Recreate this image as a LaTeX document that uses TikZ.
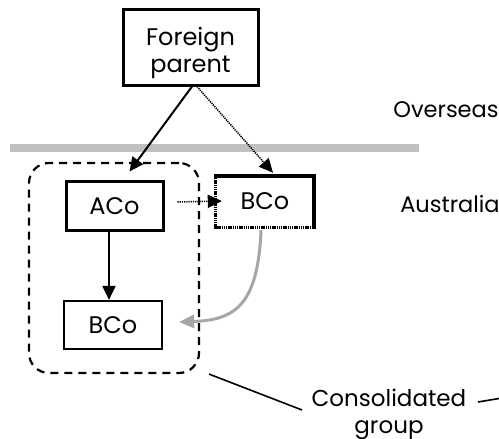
\documentclass[tikz,border=0pt]{standalone}
\usepackage{fontspec}
\setmainfont{Poppins}
\usetikzlibrary{arrows.meta,calc}
\definecolor{sepgray}{HTML}{C0C0C0}
\definecolor{arrgray}{HTML}{A6A6A6}
\tikzset{
  txt/.style={font=\fontsize{22.5}{27}\selectfont, inner sep=0pt},
  boxtxt/.style={font=\fontsize{24}{27}\selectfont, inner sep=0pt},
  box/.style={boxtxt, draw, line width=3pt, align=center},
  tip/.style={-{Triangle[length=14pt,width=13pt]}},
  conn/.style={line width=2pt, tip},
  dotconn/.style={line width=1.6pt, dash pattern=on 1.2pt off 1pt, tip},
}
\begin{document}
\begin{tikzpicture}[x=1pt,y=-1pt]
\clip (0,0) rectangle (499,439);
\useasboundingbox (0,0) rectangle (499,439);
% separator
\draw[sepgray, line width=8pt] (10,147.5) -- (419,147.5);
% nodes
\node[box, minimum width=135, minimum height=76, text height=60pt, text depth=10pt] (fp) at (190.5,47) {Foreign\\parent};
\node[box, minimum width=97, minimum height=49] (aco) at (114.5,206) {ACo};
\node[boxtxt, minimum width=98, minimum height=51] (bco1) at (265,201.5) {BCo};
\node[box, line width=2.2pt, minimum width=98, minimum height=48] (bco2) at (113,325) {BCo};
\draw[line width=3.5pt, line cap=rect] (bco1.north west) -- (bco1.north east) -- (bco1.south east);
\draw[line width=3pt, dash pattern=on 1.3pt off 0.9pt] (bco1.north west) -- (bco1.south west) -- (bco1.south east);
% group
\node[draw, line width=2.2pt, dash pattern=on 8pt off 6pt, rounded corners=20pt, minimum width=170, minimum height=210] (grp) at (114,268) {};
% labels
\node[txt, anchor=base] (ovs) at (446,117) {Overseas};
\node[txt, anchor=base] (aus) at (450,212) {Australia};
\node[txt, font=\fontsize{23}{27}\selectfont, anchor=base, align=center] (cg) at (389,433) {Consolidated\\group};
% connectors
\draw[conn] ([xshift=1.5pt]fp.south) -- ([xshift=15pt,yshift=8.5pt]aco.north);
\draw[dotconn] ([xshift=6.5pt]fp.south) -- ([xshift=8pt,yshift=3pt]bco1.north);
\draw[dotconn] ([xshift=13pt,yshift=4pt]aco.east) -- ([xshift=6pt,yshift=0.5pt]bco1.west);
\draw[conn] ([xshift=-5.5pt]aco.south) -- ([xshift=-4pt]bco2.north);
\draw[arrgray, line width=3pt, -{Triangle[length=15pt,width=13pt]}] ([xshift=-4pt,yshift=-3pt]bco1.south) .. controls (258,305) and (235,320) .. ([xshift=16pt,yshift=3pt]bco2.east);
% pointer lines
\coordinate (p1) at (302,410);
\coordinate (p2) at (478,402);
\coordinate (p3) at (520,395);
\draw[line width=1.6pt] ([xshift=9pt]grp.south east) -- (p1);
\draw[line width=1.6pt] (p2) -- (p3);
\end{tikzpicture}
\end{document}
